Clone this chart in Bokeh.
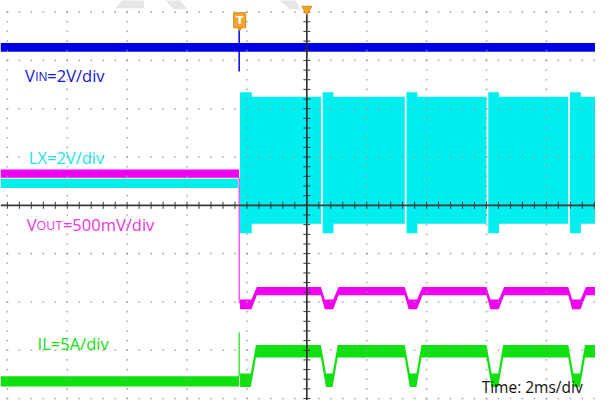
import math
from bokeh.plotting import figure
from bokeh.models import Range1d
from bokeh.embed import file_html
from bokeh.resources import INLINE
from bokeh.core.properties import value

# ---------------- scope settings ----------------
MS_PER_DIV = 2.0
X_GRID_DIVS = [0, 1, 2, 3, 4, 6, 7, 8, 9]      # graticule columns (5 = centre axis)
Y_GRID_DIVS = [-4, -3, -2, -1, 1, 2, 3, 4]      # graticule rows (0 = centre axis)
CENTER_T = 10.0                                  # ms
T_MIN, T_MAX = -0.23, 19.64                      # visible window, ms
Y_MIN, Y_MAX = -4.04, 4.24                       # visible window, divisions

# ---------------- waveform data (time ms, level in divisions) ----------------
T_TRIG = 7.74
BURSTS = [7.77, 10.50, 13.30, 16.03, 18.76]      # restart of switching after each pause

VIN_BAND = (3.18, 3.36)
VIN_SPIKE = (2.77, 3.68)

LX_IDLE = (0.36, 0.55)
LX_ON = (-0.38, 2.25)
LX_RESTART = (-0.58, 2.34)
LX_RESTART_MS = 0.39
LX_GAP_MS = 0.06

VOUT_IDLE = (0.57, 0.74)
VOUT_REG = (-1.86, -1.69)
VOUT_DIP = (-2.15, -1.95)
VOUT_STEP = -2.03
VOUT_SHAPE_MS = [-0.03, 0.10, 0.38, 0.56]

IL_IDLE = (-3.75, -3.54)
IL_REG = (-3.15, -2.89)
IL_DIP = (-3.76, -3.48)
IL_SPIKE = -2.63
IL_SHAPE_MS = [-0.03, 0.14, 0.36, 0.53]

# ---------------- labels ----------------
C_VIN, C_LX, C_VOUT, C_IL = "#0000e6", "#00eeee", "#f000f0", "#10e010"
T_VIN, T_LX, T_VOUT, T_IL = "#1414d2", "#22e4ea", "#ee33dd", "#14dc14"
TIME_LABEL = "Time: 2ms/div"

# reference-pixel helpers for decorative overlay positions
def tx(px):
    return (px - 7) / 61.5 * MS_PER_DIV

def ty(py):
    return (213 - py) / 50.25

p = figure(width=595, height=400, x_range=Range1d(T_MIN, T_MAX), y_range=Range1d(Y_MIN, Y_MAX),
           output_backend="svg", toolbar_location=None, x_axis_type=None, y_axis_type=None,
           min_border=0, min_border_left=0, min_border_right=0, min_border_top=0, min_border_bottom=0)
p.outline_line_color = None
p.grid.visible = False
p.background_fill_color = "white"
p.border_fill_color = "white"

# faint watermark strokes at the top
wm = [[(118, 8), (128, -4), (146, -4), (148, 8)],
      [(165, -4), (181, -4), (192, 9), (178, 9)],
      [(282, -4), (301, -4), (308, 9), (297, 9)]]
p.patches(xs=[[tx(a) for a, b in s] for s in wm], ys=[[ty(b) for a, b in s] for s in wm],
          fill_color="#e6e6e6", line_color=None)

# ---------------- LX (cyan) ----------------
p.varea(x=[T_MIN, T_TRIG - 0.04], y1=[LX_IDLE[0]] * 2, y2=[LX_IDLE[1]] * 2, fill_color=C_LX)
for i, g in enumerate(BURSTS):
    start = g if i == 0 else g + LX_GAP_MS / 2
    end = BURSTS[i + 1] - LX_GAP_MS / 2 if i + 1 < len(BURSTS) else T_MAX
    r_end = g + LX_RESTART_MS
    p.varea(x=[start, r_end, r_end, end],
            y1=[LX_RESTART[0], LX_RESTART[0], LX_ON[0], LX_ON[0]],
            y2=[LX_RESTART[1], LX_RESTART[1], LX_ON[1], LX_ON[1]], fill_color=C_LX)

# ---------------- VOUT (magenta) ----------------
p.varea(x=[T_MIN, T_TRIG], y1=[VOUT_IDLE[0]] * 2, y2=[VOUT_IDLE[1]] * 2, fill_color=C_VOUT)
p.segment(x0=[T_TRIG], y0=[VOUT_IDLE[0]], x1=[T_TRIG], y1=[VOUT_STEP], line_color=C_VOUT, line_width=1)
vx = [BURSTS[0], BURSTS[0] + VOUT_SHAPE_MS[2], BURSTS[0] + VOUT_SHAPE_MS[3]]
vlo = [VOUT_DIP[0], VOUT_DIP[0], VOUT_REG[0]]
vhi = [VOUT_DIP[1], VOUT_DIP[1], VOUT_REG[1]]
for g in BURSTS[1:]:
    for s, lv in zip(VOUT_SHAPE_MS, [VOUT_REG, VOUT_DIP, VOUT_DIP, VOUT_REG]):
        vx.append(g + s); vlo.append(lv[0]); vhi.append(lv[1])
vx.append(T_MAX); vlo.append(VOUT_REG[0]); vhi.append(VOUT_REG[1])
p.varea(x=vx, y1=vlo, y2=vhi, fill_color=C_VOUT)

# ---------------- IL (green) ----------------
p.varea(x=[T_MIN, T_TRIG], y1=[IL_IDLE[0]] * 2, y2=[IL_IDLE[1]] * 2, fill_color=C_IL)
p.segment(x0=[T_TRIG], y0=[IL_IDLE[1]], x1=[T_TRIG], y1=[IL_SPIKE], line_color=C_IL, line_width=1.2)
ix = [BURSTS[0], BURSTS[0] + IL_SHAPE_MS[2], BURSTS[0] + IL_SHAPE_MS[3]]
ilo = [IL_DIP[0], IL_DIP[0], IL_REG[0]]
ihi = [IL_DIP[1], IL_DIP[1], IL_REG[1]]
for g in BURSTS[1:]:
    for s, lv in zip(IL_SHAPE_MS, [IL_REG, IL_DIP, IL_DIP, IL_REG]):
        ix.append(g + s); ilo.append(lv[0]); ihi.append(lv[1])
ix.append(T_MAX); ilo.append(IL_REG[0]); ihi.append(IL_REG[1])
p.varea(x=ix, y1=ilo, y2=ihi, fill_color=C_IL)

# ---------------- VIN (blue) ----------------
p.varea(x=[T_MIN, T_MAX], y1=[VIN_BAND[0]] * 2, y2=[VIN_BAND[1]] * 2, fill_color=C_VIN)
p.segment(x0=[T_TRIG], y0=[VIN_SPIKE[0]], x1=[T_TRIG], y1=[VIN_SPIKE[1]], line_color=C_VIN, line_width=1.5)

# ---------------- graticule ----------------
gx, gy = [], []
for d in X_GRID_DIVS:
    for k in range(-20, 21):
        gx.append(d * MS_PER_DIV); gy.append(k * 0.2)
for d in Y_GRID_DIVS:
    for k in range(0, 50):
        gx.append(k * MS_PER_DIV / 5); gy.append(d)
p.scatter(x=gx, y=gy, marker="square", size=1.6, fill_color="#9a9a9a", line_color=None, fill_alpha=0.8)

p.segment(x0=[T_MIN], y0=[0], x1=[T_MAX], y1=[0], line_color="#3a3a3a", line_width=1.6)
p.segment(x0=[CENTER_T], y0=[Y_MIN], x1=[CENTER_T], y1=[Y_MAX - 0.2], line_color="#2a2a2a", line_width=1.6)
p.scatter(x=[k * MS_PER_DIV / 5 for k in range(0, 50)], y=[0] * 50, marker="dash", angle=math.pi / 2,
          size=7, line_color="#3a3a3a", line_width=1)
p.scatter(x=[CENTER_T] * 41, y=[k * 0.2 for k in range(-20, 21)], marker="dash",
          size=7, line_color="#3a3a3a", line_width=1)

# ---------------- markers ----------------
p.scatter(x=[CENTER_T], y=[ty(9)], marker="inverted_triangle", size=10, fill_color="#f5a523", line_color="#e08a10")
p.scatter(x=[tx(245.5)], y=[ty(28)], marker="inverted_triangle", size=6, fill_color="#f0a030", line_color="#d88a18")
p.rect(x=[tx(245.5)], y=[ty(20.5)], width=12, height=15, width_units="screen", height_units="screen",
       fill_color="#f3a530", line_color="#d88a18")
p.text(x=[tx(245.5)], y=[ty(20.5)], text=["T"], text_font=value("DejaVu Sans"), text_font_size="11px",
       text_font_style="bold", text_color="white", text_align="center", text_baseline="middle")

# ---------------- channel labels ----------------
F = value("Open Sans")
def label(x, y, s, color, size="16.5px"):
    p.text(x=[x], y=[y], text=[s], text_font=F, text_font_size=size, text_color=color,
           text_align="left", text_baseline="alphabetic")

label(tx(25), ty(77.5), "V", T_VIN)
label(tx(35.5), ty(78.5), "IN", T_VIN, "12px")
label(tx(48), ty(77.5), "=2V/div", T_VIN)
label(tx(29), ty(163.5), "LX=2V/div", T_LX)
label(tx(27), ty(233), "V", T_VOUT)
label(tx(37), ty(234), "OUT", T_VOUT, "12.5px")
label(tx(64), ty(233), "=500mV/div", T_VOUT)
label(tx(38), ty(356.7), "IL=5A/div", T_IL)
label(tx(494), ty(402), TIME_LABEL, "#111111", "15.5px")

open("out.html", "w").write(file_html(p, INLINE))
